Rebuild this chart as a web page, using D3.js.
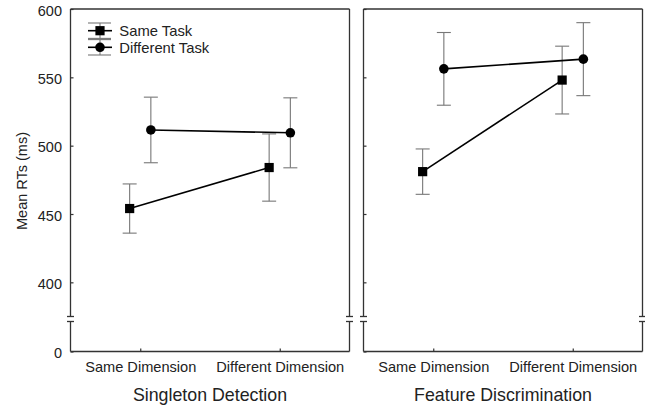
<!DOCTYPE html>
<html>
<head>
<meta charset="utf-8">
<script src="https://cdn.jsdelivr.net/npm/d3@7"></script>
<style>
  body { margin: 0; background: #fff; }
  text { font-family: "Liberation Sans", Arial, Helvetica, sans-serif; fill: #222; }
</style>
</head>
<body>
<div id="chart"></div>
<script>
// data
var panels = ["Singleton Detection", "Feature Discrimination"];
var conditions = ["Same Dimension", "Different Dimension"];
var seriesNames = ["Same Task", "Different Task"];
var sameTaskMean = [[454, 484], [481, 548]];
var sameTaskErr = [[18, 24.6], [16.6, 24.8]];
var diffTaskMean = [[511.5, 509.4], [556.2, 563.3]];
var diffTaskErr = [[24, 25.6], [26.6, 26.7]];
var yTicks = [0, 400, 450, 500, 550, 600];

var W = 645, H = 411;
var margin = {top: 9, right: 2.5, bottom: 59.5, left: 70.5};
var gap = 14;
var innerH = H - margin.top - margin.bottom;
var pw = (W - margin.left - margin.right - gap) / 2;
var breakGap = 5;

var svg = d3.select("#chart").append("svg").attr("width", W).attr("height", H);

// broken y scale: 0 on its own below the break, 375..600 above
var y = d3.scaleLinear().domain([0, 375, 600]).range([innerH, 307.5, 0]);
var x = d3.scalePoint().domain(conditions).range([0, pw]).padding(0.5);
var off = d3.scalePoint().domain(seriesNames).range([-10.6, 10.6]);

var axisCol = "#333", errCol = "#777";

panels.forEach(function(title, p){
    var g = svg.append("g").attr("transform", "translate(" + (margin.left + p * (pw + gap)) + "," + margin.top + ")");

    // frame with breaks on both sides
    var yb = y(375);
    [0, pw].forEach(function(xx){
        g.append("line").attr("x1", xx).attr("x2", xx).attr("y1", 0).attr("y2", yb)
            .attr("stroke", axisCol).attr("stroke-width", 1.3);
        g.append("line").attr("x1", xx).attr("x2", xx).attr("y1", yb + breakGap).attr("y2", innerH)
            .attr("stroke", axisCol).attr("stroke-width", 1.3);
        [yb, yb + breakGap].forEach(function(bb){
            g.append("line").attr("x1", xx - 3.5).attr("x2", xx + 3.5).attr("y1", bb).attr("y2", bb)
                .attr("stroke", axisCol).attr("stroke-width", 1.3);
        });
    });
    g.append("line").attr("x1", 0).attr("x2", pw).attr("y1", 0).attr("y2", 0)
        .attr("stroke", axisCol).attr("stroke-width", 1.3);

    // y axis
    var ya = g.append("g").call(d3.axisLeft(y).tickValues(yTicks).tickSize(-3).tickPadding(8.5)
        .tickFormat(p == 0 ? d3.format("d") : ""));
    ya.select(".domain").remove();
    ya.selectAll(".tick line").attr("stroke", axisCol).attr("stroke-width", 1.2);
    ya.selectAll("text").attr("font-size", "14.5px").attr("dy", "0.42em")
        .style("font-family", '"Liberation Sans", Arial, sans-serif').attr("fill", "#222");

    // x axis
    var xa = g.append("g").attr("transform", "translate(0," + innerH + ")")
        .call(d3.axisBottom(x).tickSize(-3).tickPadding(10.5));
    xa.select(".domain").attr("stroke", axisCol).attr("stroke-width", 1.3).attr("d", "M0,0H" + pw);
    xa.selectAll(".tick line").attr("stroke", axisCol).attr("stroke-width", 1.2);
    xa.selectAll("text").attr("font-size", "14.6px")
        .style("font-family", '"Liberation Sans", Arial, sans-serif').attr("fill", "#222");

    g.append("text").attr("x", pw / 2).attr("y", innerH + 49).attr("text-anchor", "middle")
        .attr("font-size", "17.8px").text(title);

    // series
    var series = [
        {name: "Same Task", mean: sameTaskMean[p], err: sameTaskErr[p], shape: "square"},
        {name: "Different Task", mean: diffTaskMean[p], err: diffTaskErr[p], shape: "circle"}
    ];
    series.forEach(function(s){
        var pts = conditions.map(function(c, i){
            return {x: x(c) + off(s.name), m: s.mean[i], e: s.err[i]};
        });
        // error bars
        pts.forEach(function(d){
            g.append("line").attr("x1", d.x).attr("x2", d.x).attr("y1", y(d.m - d.e)).attr("y2", y(d.m + d.e))
                .attr("stroke", errCol).attr("stroke-width", 1.1);
            [d.m - d.e, d.m + d.e].forEach(function(v){
                g.append("line").attr("x1", d.x - 7).attr("x2", d.x + 7).attr("y1", y(v)).attr("y2", y(v))
                    .attr("stroke", errCol).attr("stroke-width", 1.1);
            });
        });
        g.append("path").datum(pts)
            .attr("d", d3.line().x(function(d){ return d.x; }).y(function(d){ return y(d.m); }))
            .attr("fill", "none").attr("stroke", "#000").attr("stroke-width", 1.6);
        pts.forEach(function(d){
            if (s.shape == "square") {
                g.append("rect").attr("x", d.x - 4.6).attr("y", y(d.m) - 4.6).attr("width", 9.2).attr("height", 9.2).attr("fill", "#000");
            } else {
                g.append("circle").attr("cx", d.x).attr("cy", y(d.m)).attr("r", 4.8).attr("fill", "#000");
            }
        });
    });

    // legend in first panel
    if (p == 0) {
        var lg = g.append("g").attr("transform", "translate(29.5,21.7)");
        seriesNames.forEach(function(n, i){
            var row = lg.append("g").attr("transform", "translate(0," + (i * 16.6) + ")");
            row.append("line").attr("x1", 0).attr("x2", 0).attr("y1", -7.7).attr("y2", 7.7).attr("stroke", errCol).attr("stroke-width", 1.1);
            [-7.7, 7.7].forEach(function(v){
                row.append("line").attr("x1", -12).attr("x2", 11).attr("y1", v).attr("y2", v).attr("stroke", errCol).attr("stroke-width", 1.1);
            });
            row.append("line").attr("x1", -12).attr("x2", 12).attr("y1", 0).attr("y2", 0).attr("stroke", "#000").attr("stroke-width", 1.6);
            if (i == 0) row.append("rect").attr("x", -4.6).attr("y", -4.6).attr("width", 9.2).attr("height", 9.2).attr("fill", "#000");
            else row.append("circle").attr("r", 4.8).attr("fill", "#000");
            row.append("text").attr("x", 19.3).attr("y", 0).attr("dy", "0.36em").attr("font-size", "14.8px").text(n);
        });
    }
});

svg.append("text")
    .attr("transform", "translate(22," + (margin.top + 172) + ") rotate(-90)")
    .attr("text-anchor", "middle").attr("dy", "0.35em").attr("font-size", "14.5px")
    .text("Mean RTs (ms)");
</script>
</body>
</html>
